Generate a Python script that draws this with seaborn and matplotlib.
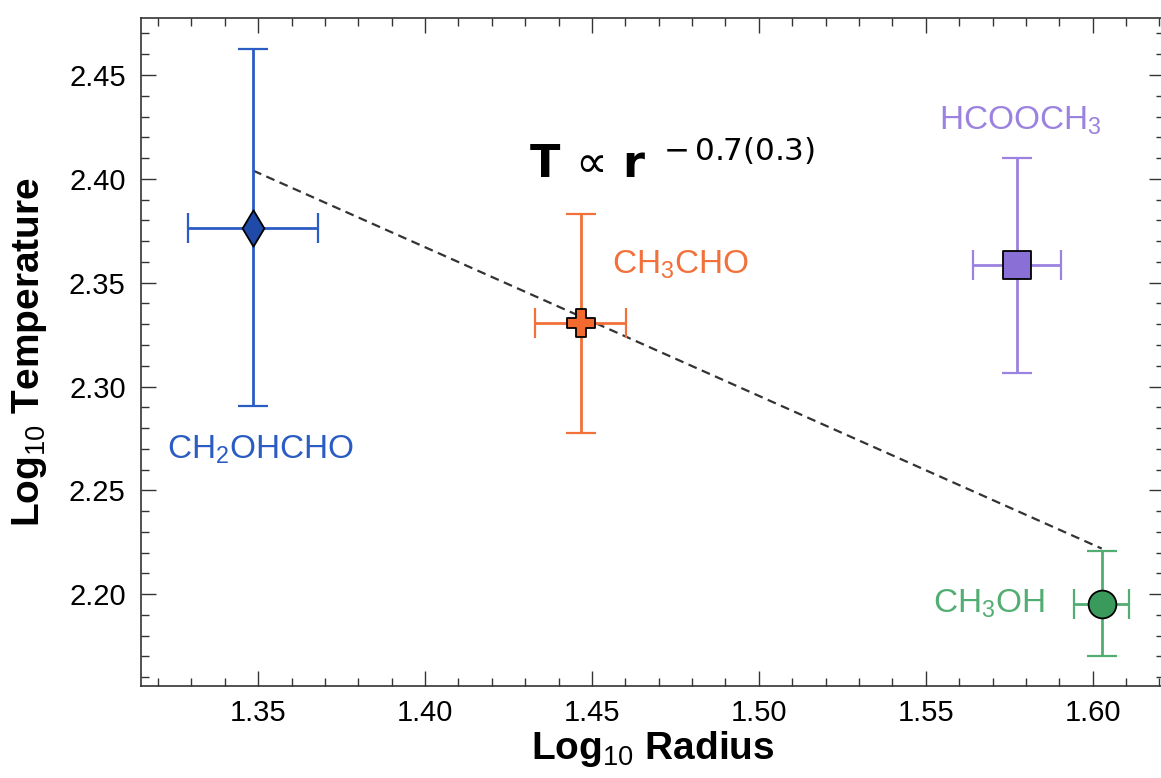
import numpy as np
import pandas as pd
import matplotlib
matplotlib.use("Agg")
import matplotlib.pyplot as plt
import seaborn as sns

# ---- data ----
species = ["CH$_2$OHCHO", "CH$_3$CHO", "HCOOCH$_3$", "CH$_3$OH"]
log_radius = [1.3485, 1.4466, 1.5774, 1.6027]
log_temp = [2.3765, 2.3305, 2.3583, 2.1955]
radius_err = [0.0195, 0.0137, 0.0132, 0.0083]
temp_err = [0.086, 0.0528, 0.0517, 0.0253]
markers = ["d", "P", "s", "o"]
marker_colors = ["#1f4aa8", "#f26a2e", "#8a6fd6", "#3a9a5c"]
err_colors = ["#2b5cc4", "#f2703a", "#9c82e0", "#52ad73"]
label_offsets = [(5, -160), (72, 42), (2, 104), (-81, 0)]  # points
fit_slope = -0.716
fit_intercept = 3.3695
xlim = (1.3149, 1.6215)
ylim = (2.1557, 2.4775)
xticks = [1.35, 1.40, 1.45, 1.50, 1.55, 1.60]
yticks = [2.20, 2.25, 2.30, 2.35, 2.40, 2.45]

sns.set_theme(style="ticks")
plt.rcParams["font.family"] = ["Liberation Sans", "DejaVu Sans"]
plt.rcParams["mathtext.fontset"] = "custom"
plt.rcParams["mathtext.rm"] = "Liberation Sans"
plt.rcParams["mathtext.it"] = "Liberation Sans:italic"
plt.rcParams["mathtext.bf"] = "Liberation Sans:bold"
plt.rcParams["mathtext.default"] = "regular"
plt.rcParams["text.color"] = "black"
plt.rcParams["xtick.color"] = "black"
plt.rcParams["ytick.color"] = "black"
plt.rcParams["axes.labelcolor"] = "black"

fig, ax = plt.subplots(figsize=(11.61, 7.78), dpi=100)
fig.subplots_adjust(left=0.1214, right=1.003, top=0.977, bottom=0.118)

# fit line
fx = np.array([log_radius[0], log_radius[-1]])
fit_df = pd.DataFrame({"x": fx, "y": fit_intercept + fit_slope * fx})
sns.lineplot(data=fit_df, x="x", y="y", ax=ax, color="#333333", lw=1.6,
             linestyle=(0, (4, 2.5)), zorder=2)

sizes = {"d": 18.5, "P": 20, "s": 20, "o": 20}
for i in range(len(species)):
    ax.errorbar(log_radius[i], log_temp[i], xerr=radius_err[i], yerr=temp_err[i],
                fmt="none", ecolor=err_colors[i], elinewidth=2.0, capsize=11,
                capthick=1.6, zorder=3)
    sns.scatterplot(x=[log_radius[i]], y=[log_temp[i]], ax=ax, marker=markers[i],
                    s=sizes[markers[i]] ** 2,
                    color=marker_colors[i], edgecolor="black", linewidth=1.3,
                    zorder=4, legend=False)
    ax.annotate(species[i], (log_radius[i], log_temp[i]), xytext=label_offsets[i],
                textcoords="offset points", ha="center", va="center",
                color=err_colors[i], fontsize=24)

ax.text(0.379, 0.760, r"$\mathbf{T}\,\propto\,\mathbf{r}^{\ \;{-}\,0.7(0.3)}$",
        transform=ax.transAxes, fontsize=32, ha="left", va="baseline",
        family="DejaVu Sans", math_fontfamily="dejavusans", color="black")

ax.set_xlim(*xlim)
ax.set_ylim(*ylim)
ax.set_xticks(xticks)
ax.set_yticks(yticks)
ax.set_xticklabels([f"{t:.2f}" for t in xticks])
ax.set_yticklabels([f"{t:.2f}" for t in yticks])
ax.xaxis.set_minor_locator(matplotlib.ticker.MultipleLocator(0.01))
ax.yaxis.set_minor_locator(matplotlib.ticker.MultipleLocator(0.01))
ax.tick_params(which="both", direction="in", top=True, right=True,
               color="#333333", width=1.0)
ax.tick_params(which="major", length=11, labelsize=21, labelcolor="black")
ax.tick_params(axis="x", which="major", pad=9)
ax.tick_params(axis="y", which="major", pad=11)
ax.tick_params(which="minor", length=5.5)
for sp in ax.spines.values():
    sp.set_linewidth(1.2)
    sp.set_color("#333333")

ax.set_xlabel(r"Log$_{\mathrm{10}}$ Radius", fontsize=28, fontweight="bold", labelpad=2)
ax.set_ylabel(r"Log$_{\mathrm{10}}$ Temperature", fontsize=28, fontweight="bold", labelpad=14)

fig.savefig("out.png", dpi=100)
